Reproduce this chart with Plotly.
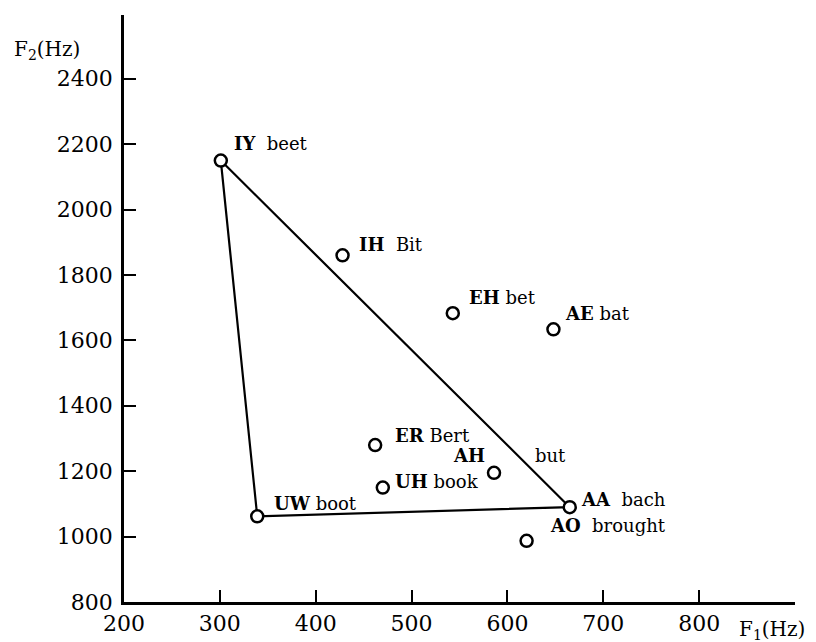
import plotly.graph_objects as go

# Vowel formant data
vowels = ["IY", "IH", "EH", "AE", "ER", "AH", "UH", "UW", "AA", "AO"]
words = ["beet", "Bit", "bet", "bat", "Bert", "but", "book", "boot", "bach", "brought"]
f1_hz = [301, 428, 543, 648, 462, 586, 470, 339, 665, 620]
f2_hz = [2150, 1860, 1683, 1634, 1280, 1195, 1150, 1062, 1090, 987]

# vowel triangle corners
triangle = ["IY", "AA", "UW", "IY"]

x_ticks = [200, 300, 400, 500, 600, 700, 800]
y_ticks = [800, 1000, 1200, 1400, 1600, 1800, 2000, 2200, 2400]

FONT = "DejaVu Serif"

fig = go.Figure()

idx = {v: i for i, v in enumerate(vowels)}
fig.add_trace(go.Scatter(
    x=[f1_hz[idx[v]] for v in triangle],
    y=[f2_hz[idx[v]] for v in triangle],
    mode="lines",
    line=dict(color="black", width=2.2),
    hoverinfo="skip", showlegend=False,
))

fig.add_trace(go.Scatter(
    x=f1_hz, y=f2_hz, mode="markers",
    marker=dict(symbol="circle", size=12, color="white",
                line=dict(color="black", width=2.5)),
    text=vowels, showlegend=False,
))

# label placement (pixel offsets), styling only
label_style = {
    "IY": (11, 17, "left"),
    "IH": (14, 11, "left"),
    "EH": (14, 16, "left"),
    "AE": (10, 16, "left"),
    "ER": (18, 10, "left"),
    "AH": (-7, 17, "right"),
    "UH": (10, 6, "left"),
    "UW": (15, 13, "left"),
    "AA": (9, 8, "left"),
    "AO": (21, 15, "left"),
}
NB = "\u00a0"
LABEL_SIZE = 18
for v, w, x, y in zip(vowels, words, f1_hz, f2_hz):
    dx, dy, anc = label_style[v]
    if v == "AH":
        txt = f"<b>{v}</b>"
        fig.add_annotation(x=x, y=y, text=w, showarrow=False, xanchor="left",
                           xshift=39, yshift=17,
                           font=dict(family=FONT, size=LABEL_SIZE, color="black"))
    elif v in ("IY", "IH", "AA", "AO"):
        txt = f"<b>{v}</b>{NB}{NB}{w}"
    else:
        txt = f"<b>{v}</b>{NB}{w}"
    fig.add_annotation(x=x, y=y, text=txt, showarrow=False, xanchor=anc,
                       xshift=dx, yshift=dy,
                       font=dict(family=FONT, size=LABEL_SIZE, color="black"))

# axis titles
fig.add_annotation(xref="paper", yref="paper", x=-0.167, y=0.940,
                   text="F<sub>2</sub>(Hz)", showarrow=False, xanchor="left",
                   yanchor="middle", font=dict(family=FONT, size=20, color="black"))
fig.add_annotation(xref="paper", yref="paper", x=0.914, y=-0.047,
                   text="F<sub>1</sub>(Hz)", showarrow=False, xanchor="left",
                   yanchor="middle", font=dict(family=FONT, size=20, color="black"))

axis_common = dict(
    showgrid=False, zeroline=False, showline=True, linecolor="black",
    linewidth=2.5, ticks="inside", ticklen=12, tickwidth=2, tickcolor="black",
    tickfont=dict(family=FONT, size=22, color="black"), automargin=False,
)
fig.update_xaxes(range=[200, 900], tickvals=x_ticks,
                 ticktext=[str(t) for t in x_ticks], **axis_common)
fig.update_yaxes(range=[800, 2595], tickvals=y_ticks,
                 ticktext=[str(t) for t in y_ticks], ticklabelstandoff=4,
                 **axis_common)

fig.update_layout(
    width=808, height=634,
    margin=dict(l=116, r=21, t=7, b=40),
    plot_bgcolor="white", paper_bgcolor="white",
    showlegend=False,
)

fig.write_html("out.html")
